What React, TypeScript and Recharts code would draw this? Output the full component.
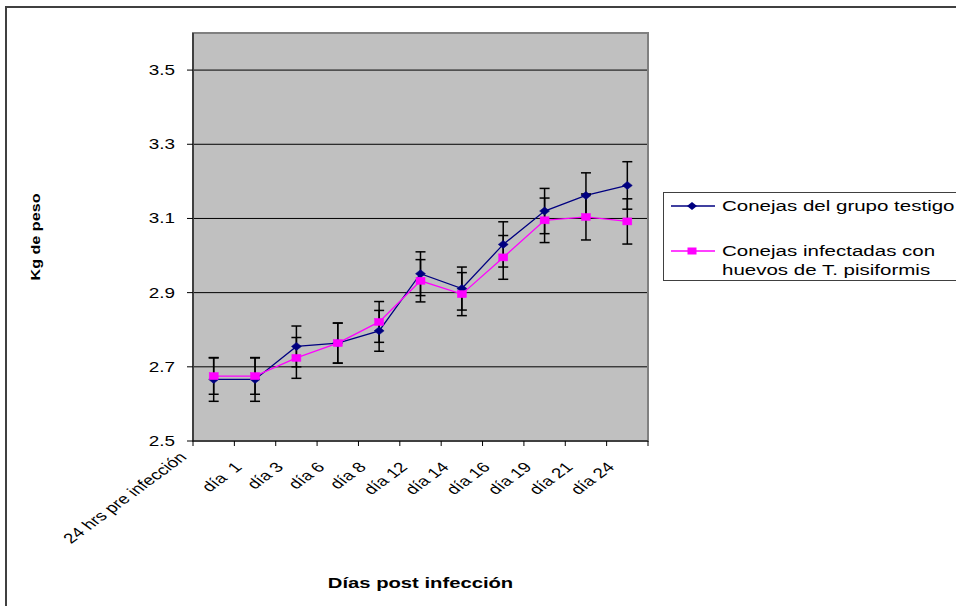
import React from 'react';
import { LineChart, Line, XAxis, YAxis, CartesianGrid, ErrorBar, ReferenceArea, Legend } from 'recharts';

const categories = ['24 hrs pre infección', 'día  1', 'día 3', 'día 6', 'día 8', 'día 12', 'día 14', 'día 16', 'día 19', 'día 21', 'día 24'];
const testigo = [2.666, 2.666, 2.755, 2.764, 2.797, 2.951, 2.911, 3.03, 3.12, 3.162, 3.189];
const testigoErr = [0.059, 0.059, 0.055, 0.054, 0.055, 0.059, 0.058, 0.061, 0.061, 0.061, 0.064];
const infectadas = [2.675, 2.675, 2.724, 2.764, 2.821, 2.932, 2.896, 2.995, 3.095, 3.104, 3.092];
const infectadasErr = [0.049, 0.049, 0.055, 0.054, 0.055, 0.057, 0.058, 0.059, 0.06, 0.062, 0.061];
const yTicks = [2.5, 2.7, 2.9, 3.1, 3.3, 3.5];
const yDomain = [2.5, 3.6];
const legendTestigo = ['Conejas del grupo testigo'];
const legendInfectadas = ['Conejas infectadas con', 'huevos de T. pisiformis'];
const xTitle = 'Días post infección';
const yTitle = 'Kg de peso';

const data = categories.map((c, i) => ({
  cat: c,
  testigo: testigo[i],
  testigoErr: testigoErr[i],
  infectadas: infectadas[i],
  infectadasErr: infectadasErr[i],
}));

const W = 956;
const H = 606;
const PLOT_LEFT = 193;
const PLOT_RIGHT = 648;
const PLOT_TOP = 33;
const PLOT_BOTTOM = 441;
const BAND = (PLOT_RIGHT - PLOT_LEFT) / categories.length;
const FONT = '"Liberation Sans", Arial, Helvetica, sans-serif';
const SX = 1.35;
const BLUE = '#000080';
const PINK = '#FF00FF';

const Diamond = (props: any) => {
  const { cx, cy, index } = props;
  if (cx == null || cy == null) return null;
  return (
    <path key={`d${index}`} d={`M${cx},${cy - 4}L${cx + 5},${cy}L${cx},${cy + 4}L${cx - 5},${cy}Z`} fill={BLUE} stroke={BLUE} strokeWidth={0.5} />
  );
};

const Square = (props: any) => {
  const { cx, cy, index } = props;
  if (cx == null || cy == null) return null;
  return <rect key={`s${index}`} x={cx - 4.5} y={cy - 3.5} width={9} height={7} fill={PINK} stroke={PINK} strokeWidth={0.5} />;
};

const XTick = (props: any) => {
  const { x, payload, index } = props;
  const half = BAND / 2;
  const first = index === 0;
  const ax = x + (first ? -26 : -12);
  const ay = PLOT_BOTTOM + (first ? 17 : 27);
  return (
    <g>
      <line x1={x - half} y1={PLOT_BOTTOM} x2={x - half} y2={PLOT_BOTTOM + 5} stroke="#000" strokeWidth={1} />
      {index === categories.length - 1 ? (
        <line x1={x + half} y1={PLOT_BOTTOM} x2={x + half} y2={PLOT_BOTTOM + 5} stroke="#000" strokeWidth={1} />
      ) : null}
      <text
        transform={`translate(${ax},${ay}) scale(${SX},1) rotate(-45)`}
        textAnchor="end"
        fontSize={14}
        fontFamily={FONT}
        fill="#000"
        style={{ whiteSpace: 'pre' }}
      >
        {payload.value}
      </text>
    </g>
  );
};

const YTick = (props: any) => {
  const { y, payload } = props;
  return (
    <g>
      <line x1={PLOT_LEFT - 6} y1={y} x2={PLOT_LEFT} y2={y} stroke="#000" strokeWidth={1} />
      <text
        transform={`translate(${PLOT_LEFT - 18},${y + 5}) scale(${SX},1)`}
        textAnchor="end"
        fontSize={14}
        fontFamily={FONT}
        fill="#000"
      >
        {Number(payload.value).toFixed(1)}
      </text>
    </g>
  );
};

const renderXTitle = () => (
  <text
    transform={`translate(${(PLOT_LEFT + PLOT_RIGHT) / 2},588) scale(${SX},1)`}
    textAnchor="middle"
    fontSize={15}
    fontWeight="bold"
    fontFamily={FONT}
    fill="#000"
  >
    {xTitle}
  </text>
);

const renderYTitle = () => (
  <text
    transform={`translate(40,${(PLOT_TOP + PLOT_BOTTOM) / 2}) rotate(-90)`}
    textAnchor="middle"
    fontSize={13.5}
    fontWeight="bold"
    fontFamily={FONT}
    fill="#000"
    textLength={87}
    lengthAdjust="spacingAndGlyphs"
  >
    {yTitle}
  </text>
);

const textStyle: React.CSSProperties = {
  position: 'absolute',
  left: 58,
  fontSize: 15.2,
  lineHeight: '19px',
  fontFamily: FONT,
  whiteSpace: 'nowrap',
  transform: `scaleX(${SX})`,
  transformOrigin: '0 50%',
  color: '#000',
};

const LegendBox = () => (
  <div
    style={{
      position: 'relative',
      width: 300,
      height: 89,
      border: '1px solid #404040',
      boxSizing: 'border-box',
      background: '#fff',
    }}
  >
    <svg style={{ position: 'absolute', left: 7, top: 7 }} width={46} height={12}>
      <line x1={0} y1={6} x2={44} y2={6} stroke={BLUE} strokeWidth={1.3} />
      <path d="M21,2L26,6L21,10L16,6Z" fill={BLUE} />
    </svg>
    {legendTestigo.map((t, i) => (
      <div key={t} style={{ ...textStyle, top: 3 + i * 19 }}>{t}</div>
    ))}
    <svg style={{ position: 'absolute', left: 7, top: 52 }} width={46} height={12}>
      <line x1={0} y1={6} x2={44} y2={6} stroke={PINK} strokeWidth={1.3} />
      <rect x={16.5} y={2.5} width={9} height={7} fill={PINK} />
    </svg>
    {legendInfectadas.map((t, i) => (
      <div key={t} style={{ ...textStyle, top: 48 + i * 19 }}>{t}</div>
    ))}
  </div>
);

export default function App() {
  return (
    <div style={{ position: 'absolute', left: 0, top: 0, width: W, height: H, overflow: 'hidden', background: '#fff' }}>
      <div
        style={{
          position: 'absolute',
          left: 5,
          top: 6,
          width: 1000,
          height: 700,
          border: '2px solid #404040',
        }}
      />
      <div style={{ position: 'absolute', left: 0, top: 0 }}>
        <LineChart
          width={W}
          height={H}
          data={data}
          margin={{ top: PLOT_TOP, right: W - PLOT_RIGHT, bottom: 0, left: 0 }}
        >
          <CartesianGrid horizontal vertical={false} stroke="#000" strokeDasharray="" fill="#C0C0C0" fillOpacity={1} />
          <XAxis
            dataKey="cat"
            scale="band"
            interval={0}
            height={H - PLOT_BOTTOM}
            axisLine={{ stroke: '#000', strokeWidth: 1 }}
            tickLine={false}
            tick={<XTick />}
            label={{ content: renderXTitle }}
          />
          <YAxis
            type="number"
            domain={yDomain}
            ticks={yTicks}
            width={PLOT_LEFT}
            axisLine={{ stroke: '#000', strokeWidth: 1 }}
            tickLine={false}
            tick={<YTick />}
            allowDataOverflow
            label={{ content: renderYTitle }}
          />
          <ReferenceArea y1={2.5} y2={3.6} fill="none" stroke="#808080" strokeWidth={2} ifOverflow="visible" />
          <Line
            dataKey="testigo"
            stroke={BLUE}
            strokeWidth={1.3}
            dot={<Diamond />}
            activeDot={false}
            isAnimationActive={false}
          >
            <ErrorBar dataKey="testigoErr" width={5} stroke="#000" strokeWidth={1.5} direction="y" />
          </Line>
          <Line
            dataKey="infectadas"
            stroke={PINK}
            strokeWidth={1.3}
            dot={<Square />}
            activeDot={false}
            isAnimationActive={false}
          >
            <ErrorBar dataKey="infectadasErr" width={5} stroke="#000" strokeWidth={1.5} direction="y" />
          </Line>
          <Legend
            layout="horizontal"
            verticalAlign="middle"
            align="center"
            content={<LegendBox />}
            wrapperStyle={{ left: 663, top: 192, width: 300, height: 89 }}
          />
        </LineChart>
      </div>
    </div>
  );
}
